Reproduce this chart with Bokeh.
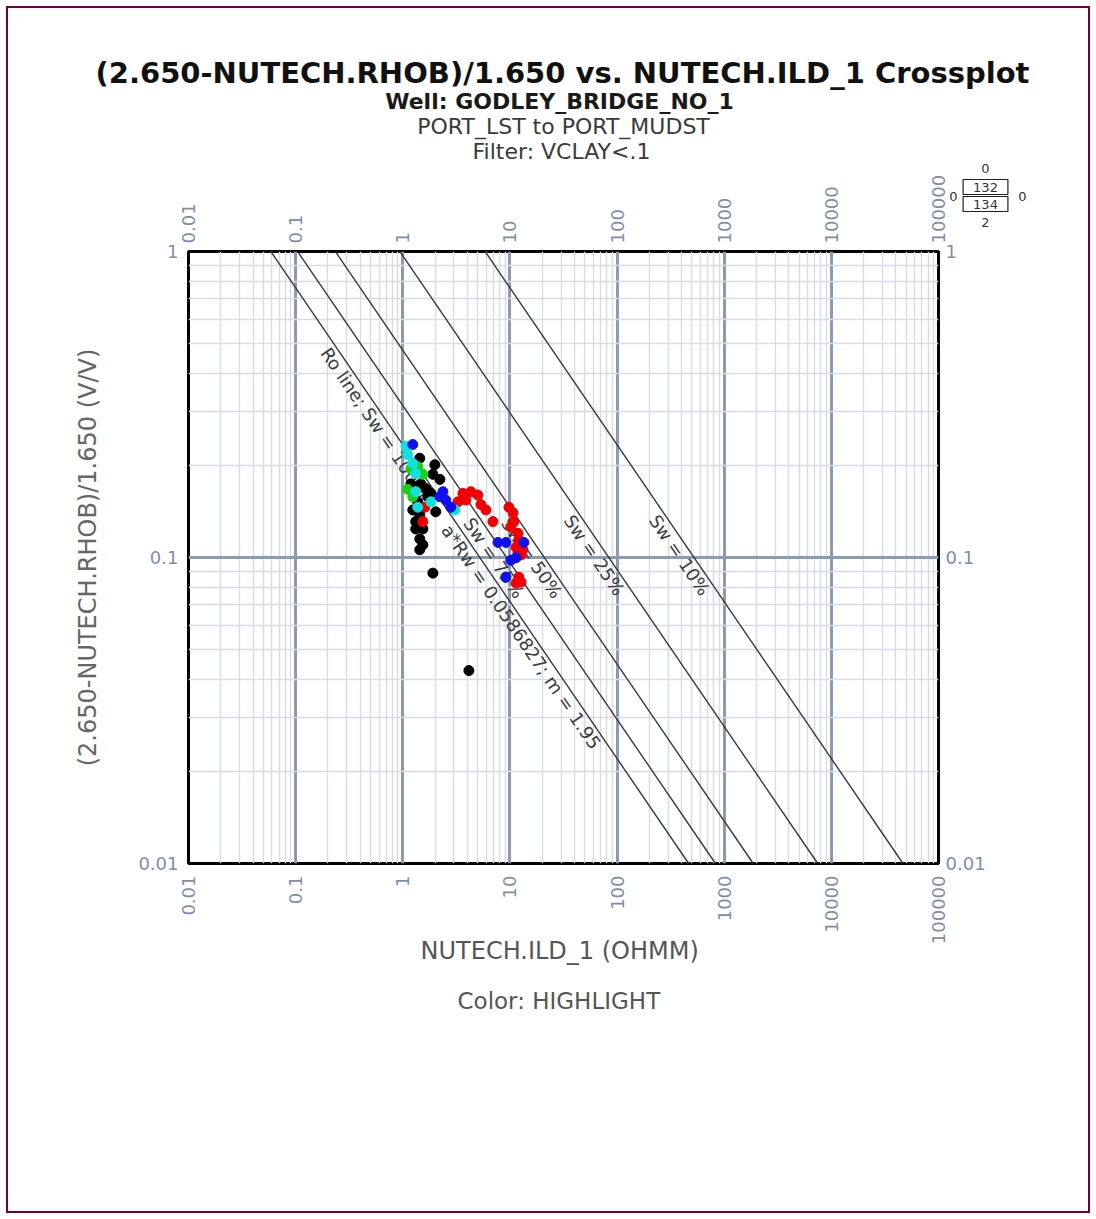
import math
import numpy as np
from bokeh.plotting import figure
from bokeh.models import (FixedTicker, Grid, LogAxis, Label,
                          ColumnDataSource, Range1d)
from bokeh.embed import file_html
from bokeh.resources import INLINE
from bokeh.core.properties import value

# ---------------- data ----------------
X_TICKS = [0.01, 0.1, 1, 10, 100, 1000, 10000, 100000]
X_TICK_LABELS = ["0.01", "0.1", "1", "10", "100", "1000", "10000", "100000"]
Y_TICKS = [0.01, 0.1, 1]
Y_TICK_LABELS = ["0.01", "0.1", "1"]

A_RW = 0.0586827
M_EXP = 1.95
N_EXP = 2.0
SW_LINES = [1.0, 0.75, 0.50, 0.25, 0.10]
SW_LABELS = ["Ro line; Sw = 100%", "Sw = 75%", "Sw = 50%", "Sw = 25%", "Sw = 10%"]
SW_LABEL_PHI = [0.50, 0.139, 0.139, 0.142, 0.142]
ARW_LABEL = "a*Rw = 0.0586827; m = 1.95"
ARW_LABEL_PHI = 0.132

ZONE_TEXTS = ["0", "132", "134", "0", "0", "2"]

black_rt = [1.44, 1.99, 1.91, 2.22, 1.19, 1.47, 1.64, 1.71, 1.83, 1.38, 1.24,
            2.03, 1.44, 1.32, 1.32, 1.54, 1.44, 1.54, 1.44, 1.91, 4.14]
black_phi = [0.211, 0.201, 0.187, 0.180, 0.174, 0.174, 0.168, 0.158, 0.162, 0.152, 0.143,
             0.141, 0.138, 0.131, 0.124, 0.124, 0.115, 0.110, 0.106, 0.0889, 0.0427]

red_rt = [3.64, 3.27, 1.61, 1.54, 4.32, 5.02, 3.88, 5.36, 5.97, 6.94, 9.79, 10.7,
          10.9, 10.2, 11.9, 12.1, 11.4, 13.2, 11.9, 12.7, 12.1, 12.7, 11.4]
red_phi = [0.162, 0.152, 0.146, 0.131, 0.164, 0.160, 0.154, 0.149, 0.143, 0.131, 0.146, 0.140,
           0.131, 0.126, 0.120, 0.114, 0.108, 0.106, 0.104, 0.102, 0.0863, 0.0831, 0.0825]

green_rt = [1.38, 1.54, 1.19, 1.11, 1.24]
green_phi = [0.198, 0.187, 0.195, 0.167, 0.158]

cyan_rt = [1.07, 1.11, 1.24, 1.32, 1.32, 1.83, 3.06, 1.38]
cyan_phi = [0.231, 0.217, 0.203, 0.188, 0.164, 0.152, 0.143, 0.146]

blue_rt = [1.24, 2.37, 2.22, 2.52, 2.81, 7.73, 9.18, 13.5, 10.2, 11.4, 9.18]
blue_phi = [0.234, 0.164, 0.158, 0.154, 0.146, 0.112, 0.112, 0.112, 0.098, 0.0998, 0.0863]

# ---------------- figure ----------------
FW, FH = 750, 612
FONT = "DejaVu Sans"
TICK_COLOR = "#7f8ea6"

p = figure(x_axis_type="log", y_axis_type="log",
           x_range=Range1d(0.01, 100000), y_range=Range1d(0.01, 1),
           frame_width=FW, frame_height=FH,
           min_border_left=188, min_border_right=158,
           min_border_top=251, min_border_bottom=356,
           output_backend="svg", toolbar_location=None, title_location=None,
           background_fill_color="white", border_fill_color=None)
try:
    p.styles = {"outline": "2px solid #700038", "outline-offset": "-8px",
                "background-color": "white"}
except Exception:
    pass

p.outline_line_color = "black"
p.outline_line_width = 3
p.grid.visible = False

def style_axis(ax, ticks, labels, orient, standoff):
    ax.ticker = FixedTicker(ticks=ticks, minor_ticks=[])
    ax.major_label_overrides = {float(t): l for t, l in zip(ticks, labels)}
    ax.major_label_orientation = orient
    ax.major_label_standoff = standoff
    ax.major_tick_line_color = None
    ax.minor_tick_line_color = None
    ax.major_tick_in = 0
    ax.major_tick_out = 0
    ax.minor_tick_in = 0
    ax.minor_tick_out = 0
    ax.axis_line_color = None
    ax.major_label_text_color = TICK_COLOR
    ax.major_label_text_font = FONT
    ax.major_label_text_font_size = "18px"

bottom_ax = p.xaxis[0]
left_ax = p.yaxis[0]
style_axis(bottom_ax, X_TICKS, X_TICK_LABELS, math.pi / 2, 12)
style_axis(left_ax, Y_TICKS, Y_TICK_LABELS, "horizontal", 10)

bottom_ax.axis_label = "NUTECH.ILD_1  (OHMM)"
bottom_ax.axis_label_text_font = FONT
bottom_ax.axis_label_text_font_size = "24px"
bottom_ax.axis_label_text_font_style = "normal"
bottom_ax.axis_label_text_color = "#555555"
bottom_ax.axis_label_standoff = -10
left_ax.axis_label = "(2.650-NUTECH.RHOB)/1.650 (V/V)"
left_ax.axis_label_text_font = FONT
left_ax.axis_label_text_font_size = "24px"
left_ax.axis_label_text_font_style = "normal"
left_ax.axis_label_text_color = "#666666"
left_ax.axis_label_standoff = 33

top_ax = LogAxis()
style_axis(top_ax, X_TICKS, X_TICK_LABELS, math.pi / 2, 8)
p.add_layout(top_ax, "above")
right_ax = LogAxis()
style_axis(right_ax, Y_TICKS, Y_TICK_LABELS, "horizontal", 7)
p.add_layout(right_ax, "right")

# grid lines: minor (2..9 per decade) and major (decades)
x_minor = [m * 10.0 ** k for k in range(-2, 5) for m in range(2, 10)]
y_minor = [m * 10.0 ** k for k in range(-2, 0) for m in range(2, 10)]
for dim, minor, major in ((0, x_minor, X_TICKS), (1, y_minor, Y_TICKS)):
    p.add_layout(Grid(dimension=dim, ticker=FixedTicker(ticks=minor),
                      grid_line_color="#d6dce5", grid_line_width=1.4))
    p.add_layout(Grid(dimension=dim, ticker=FixedTicker(ticks=major),
                      grid_line_color="#8d9bb1", grid_line_width=3))

# Archie Sw lines
phi_ends = np.array([1.0, 0.01])
for sw in SW_LINES:
    rt = A_RW / (sw ** N_EXP * phi_ends ** M_EXP)
    p.line(rt, phi_ends, line_color="#3a3a3a", line_width=1.4)

# line labels along the lines
ang = -math.atan((FH / 2.0) / ((FW / 7.0) * M_EXP))
lab_x, lab_y, lab_t = [], [], []
for sw, txt, ph in zip(SW_LINES, SW_LABELS, SW_LABEL_PHI):
    lab_x.append(A_RW / (sw ** N_EXP * ph ** M_EXP))
    lab_y.append(ph)
    lab_t.append(txt)
lab_x.append(A_RW / (ARW_LABEL_PHI ** M_EXP))
lab_y.append(ARW_LABEL_PHI)
lab_t.append(ARW_LABEL)
lsrc = ColumnDataSource(dict(x=lab_x, y=lab_y, text=lab_t, angle=[ang] * len(lab_t)))
p.text(x="x", y="y", text="text", angle="angle", source=lsrc,
       text_font=value(FONT), text_font_size=value("18px"),
       text_color="#3c3c3c", text_align="left", text_baseline="top")

# data points
for rt, ph, col in ((black_rt, black_phi, "#000000"),
                    (red_rt, red_phi, "#f00000"),
                    (green_rt, green_phi, "#18d018"),
                    (cyan_rt, cyan_phi, "#10e0e0"),
                    (blue_rt, blue_phi, "#1010ee")):
    p.scatter(rt, ph, size=10, fill_color=col, line_color=col)

# ---------------- texts outside the frame (canvas units, side panels => not clipped) ----------------
def canvas_label(x, y, text, size, color, place, bold=False, boxed=False):
    kw = dict(x=x, y=y, x_units="canvas", y_units="canvas", text=text,
              text_font=FONT, text_font_size=size, text_color=color,
              text_font_style="bold" if bold else "normal",
              text_align="center", text_baseline="middle")
    if boxed:
        kw.update(border_line_color="#222222", border_line_width=1.2)
        try:
            lbl = Label(padding=dict(left=10, right=10, top=3, bottom=3), **kw)
        except Exception:
            lbl = Label(padding=3, **kw)
    else:
        lbl = Label(**kw)
    p.add_layout(lbl, place)

canvas_label(562, 72, "(2.650-NUTECH.RHOB)/1.650 vs. NUTECH.ILD_1 Crossplot", "29px", "#111111", "above", True)
canvas_label(559, 101, "Well: GODLEY_BRIDGE_NO_1", "22px", "#1a1a1a", "above", True)
canvas_label(563, 126, "PORT_LST to PORT_MUDST", "22px", "#3a3a3a", "above")
canvas_label(561, 151, "Filter: VCLAY<.1", "22px", "#3a3a3a", "above")
canvas_label(562, 1000, "Color:  HIGHLIGHT", "23px", "#555555", "below")

# zone box at top right
zone_pos = [(985, 168, False), (985, 186.5, True), (985, 203.5, True),
            (953, 196, False), (1022, 196, False), (985, 222, False)]
for txt, (zx, zy, boxed) in zip(ZONE_TEXTS, zone_pos):
    canvas_label(zx, zy, txt, "13px", "#333333", "below", boxed=boxed)

open("out.html", "w").write(file_html(p, INLINE))
